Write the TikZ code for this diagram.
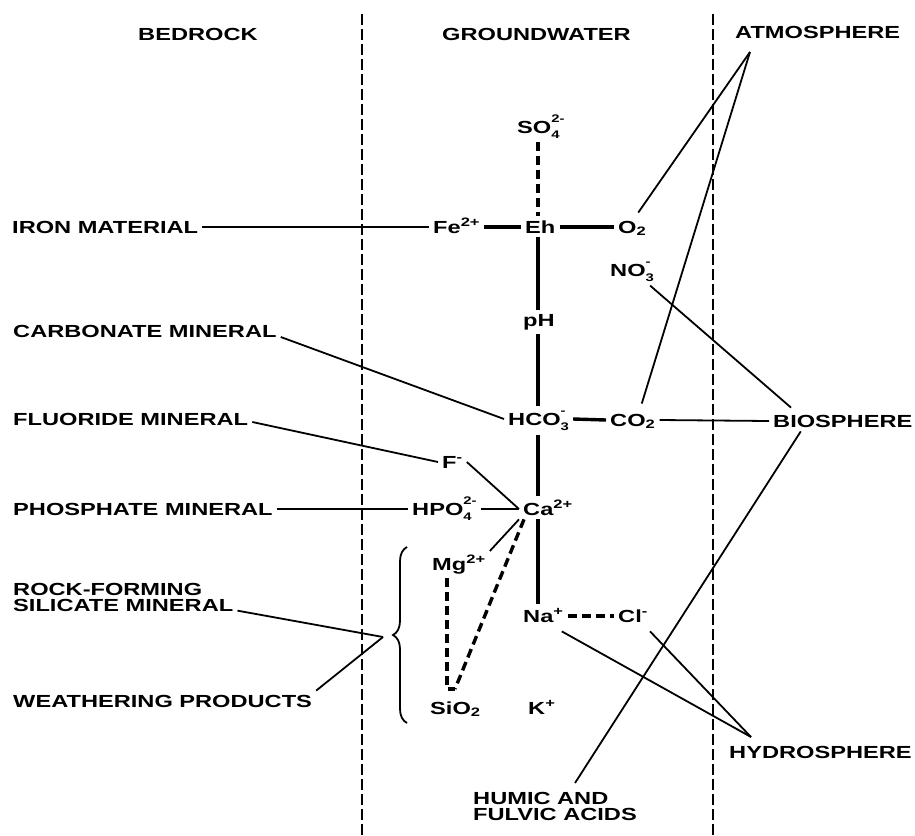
\documentclass[tikz,border=0pt]{standalone}
\usepackage{fontspec}
\newfontfamily\labfont[FakeStretch=1.35]{Liberation Sans}
\usetikzlibrary{decorations.pathreplacing}
\newcommand{\subsup}[2]{\setbox0\hbox{\raisebox{-0.3em}{\fontsize{11}{11}\selectfont #1}}\setbox2\hbox{\raisebox{0.62em}{\fontsize{11}{11}\selectfont #2}}\ifdim\wd0>\wd2\relax\rlap{\box2}\box0\else\rlap{\box0}\box2\fi}
\tikzset{
  lab/.style={font=\labfont\bfseries\fontsize{17.5}{16.5}\selectfont, inner sep=4pt, anchor=base west},
  link/.style={line width=1.8pt},
  bond/.style={line width=3.4pt},
  dbond/.style={line width=3.4pt, dash pattern=on 9pt off 5pt},
  zone/.style={line width=1.9pt, dash pattern=on 11pt off 4pt},
}
\begin{document}
\begin{tikzpicture}[x=1pt,y=-1pt]
\useasboundingbox (0,0) rectangle (915,835);
\draw[zone] (362,14) -- (362,835);
\draw[zone] (713,14) -- (713,835);
\node[lab] (bedrock) at (134,40){BEDROCK};
\node[lab] (gw) at (438,40){GROUNDWATER};
\node[lab] (atmos) at (731,38){ATMOSPHERE};
\coordinate (axis) at (538,0);
\coordinate (atip) at (750,52);
\coordinate (btip) at (383,637);
\coordinate (htip) at (751,737);
\coordinate (sitop) at (455,689);
\coordinate (mgfoot) at (447,689);
% groundwater species
\node[lab] (so4) at (513,133){SO\subsup{4}{2-}};
\node[lab] (fe) at (429,233){Fe\textsuperscript{2+}};
\node[lab] (eh) at (521,233){Eh};
\node[lab] (o2) at (614,233){O\textsubscript{2}};
\node[lab] (no3) at (606,276){NO\subsup{3}{-}};
\node[lab] (ph) at (519,326){pH};
\node[lab] (hco3) at (504,425){HCO\subsup{3}{-}};
\node[lab] (co2) at (606,426){CO\textsubscript{2}};
\node[lab] (f) at (438,468){F\textsuperscript{-}};
\node[lab] (hpo4) at (408,515){HPO\subsup{4}{2-}};
\node[lab] (ca) at (519,515){Ca\textsuperscript{2+}};
\node[lab] (mg) at (428,570){Mg\textsuperscript{2+}};
\node[lab] (na) at (519,622){Na\textsuperscript{+}};
\node[lab] (cl) at (614,622){Cl\textsuperscript{-}};
\node[lab] (sio2) at (426,714){SiO\textsubscript{2}};
\node[lab] (k) at (524,714){K\textsuperscript{+}};
\draw[bond] ([yshift=6pt]fe.base east) -- ([yshift=6pt]eh.base west);
\draw[bond] ([yshift=6pt]eh.base east) -- ([yshift=6pt]o2.base west);
\draw[dbond] (so4.south -| axis) -- (eh.north -| axis);
\draw[bond] (eh.south -| axis) -- (ph.north -| axis);
\draw[bond] (ph.south -| axis) -- (hco3.north -| axis);
\draw[bond] (hco3.south -| axis) -- (ca.north -| axis);
\draw[bond] (ca.south -| axis) -- (na.north -| axis);
\draw[bond] ([yshift=6pt]hco3.base east) -- ([yshift=6pt]co2.base west);
\draw[dbond] ([yshift=6pt]na.base east) -- ([yshift=6pt]cl.base west);
\draw[dbond] (mg.south -| mgfoot) -- (mgfoot) -- (sitop);
\draw[dbond] ([xshift=5pt]ca.south west) -- (sitop);
\draw[link] ([yshift=6pt]f.base east) -- ([yshift=6pt]ca.base west);
\draw[link] ([yshift=6pt]hpo4.base east) -- ([yshift=6pt]ca.base west);
\draw[link] (ca.south west) -- (mg.north east);
% bedrock side
\node[lab] (iron) at (8,233){IRON MATERIAL};
\node[lab] (carb) at (9,337){CARBONATE MINERAL};
\node[lab] (fluor) at (9,425){FLUORIDE MINERAL};
\node[lab] (phos) at (9,515){PHOSPHATE MINERAL};
\node[lab, anchor=north west, align=left] (silic) at (9,579){ROCK-FORMING\\SILICATE MINERAL};
\node[lab] (weath) at (9,707){WEATHERING PRODUCTS};
\draw[line width=1.8pt, decorate, decoration={brace, amplitude=14pt}] (407,723) -- (407,547);
\draw[link] ([yshift=6pt]iron.base east) -- ([yshift=6pt]fe.base west);
\draw[link] (carb.base east) -- ([yshift=6pt]hco3.base west);
\draw[link] ([yshift=3pt]fluor.base east) -- ([yshift=6pt]f.base west);
\draw[link] ([yshift=6pt]phos.base east) -- ([yshift=6pt]hpo4.base west);
\draw[link] ([yshift=-13pt]silic.east) -- (btip);
\draw[link] (weath.north east) -- (btip);
% atmosphere, biosphere, hydrosphere
\node[lab] (bio) at (769,427){BIOSPHERE};
\node[lab] (hydro) at (725,758){HYDROSPHERE};
\node[lab, anchor=north west, align=left] (humic) at (469,788){HUMIC AND\\FULVIC ACIDS};
\draw[link] (atip) -- ([xshift=6pt,yshift=4pt]o2.north);
\draw[link] (atip) -- ([xshift=9pt,yshift=6pt]co2.north);
\draw[link] ([xshift=-8pt]no3.south east) -- ([xshift=22pt,yshift=3pt]bio.north west);
\draw[link] ([yshift=6pt]co2.base east) -- ([yshift=6pt]bio.base west);
\draw[link] ([xshift=-42pt]bio.south) -- ([xshift=20pt,yshift=5pt]humic.north);
\draw[link] ([xshift=-6pt,yshift=-5pt]na.south east) -- (htip);
\draw[link] ([xshift=-2pt,yshift=-5pt]cl.south east) -- (htip);
\end{tikzpicture}
\end{document}
